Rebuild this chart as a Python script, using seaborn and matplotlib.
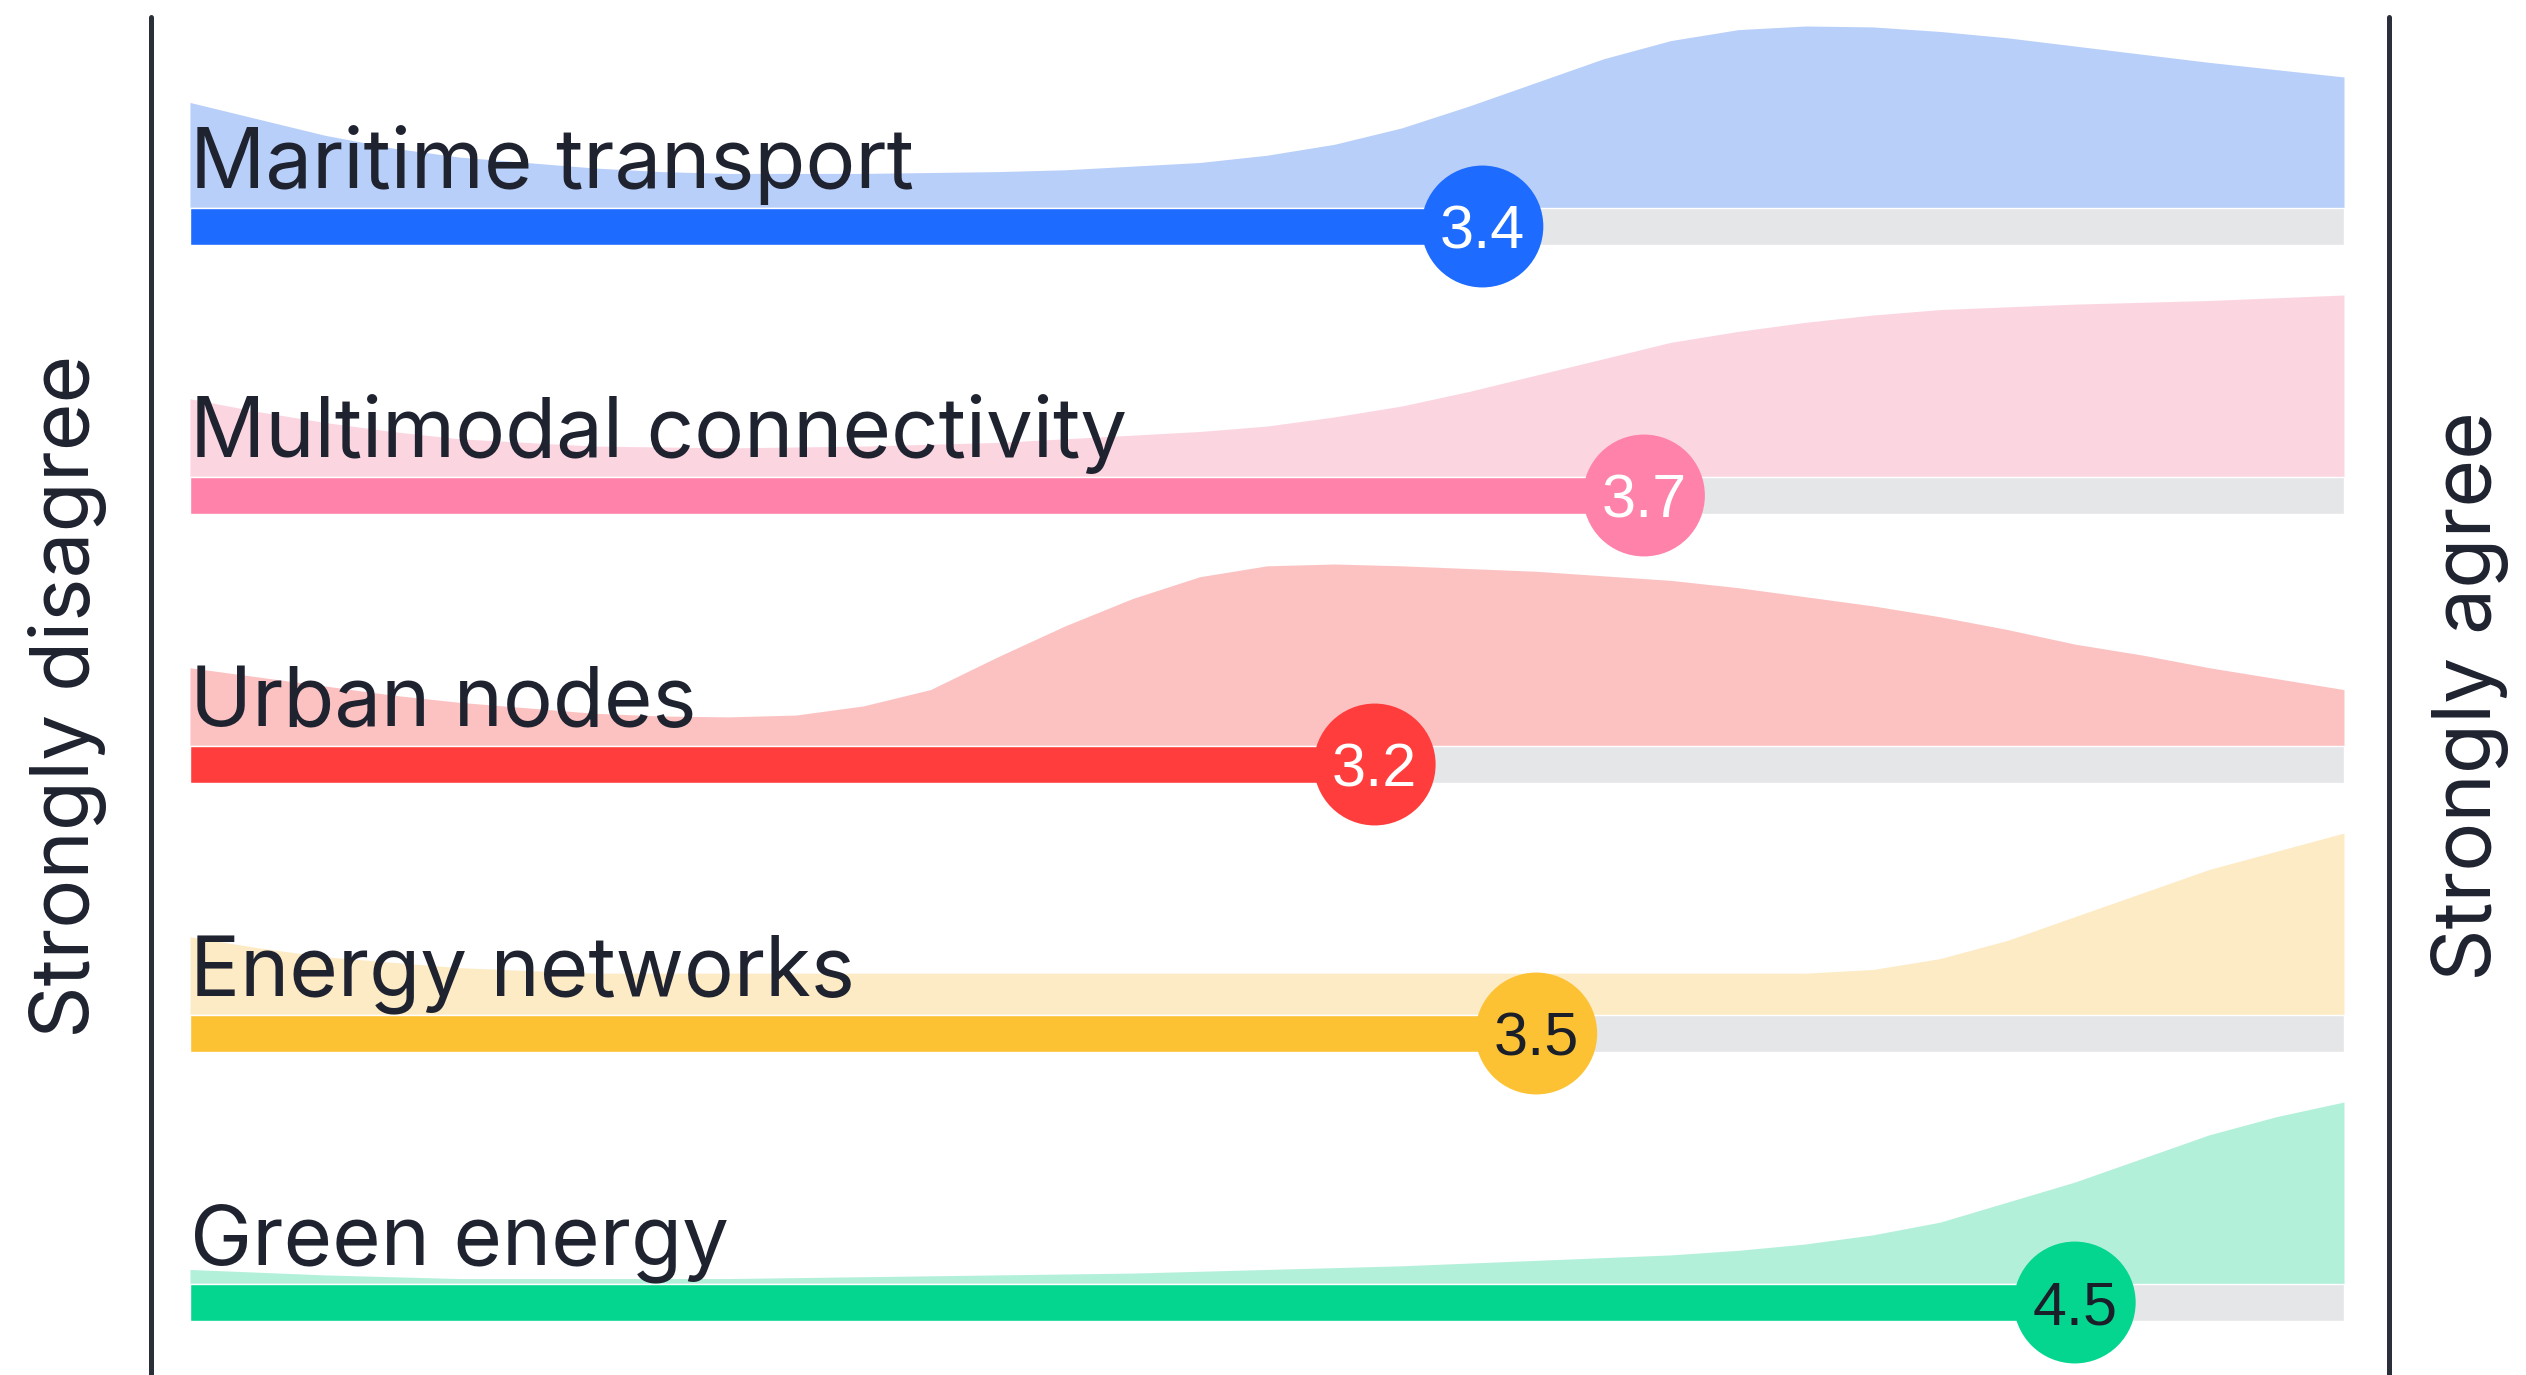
import numpy as np
import matplotlib.pyplot as plt
import seaborn as sns

categories = ["Maritime transport", "Multimodal connectivity", "Urban nodes",
              "Energy networks", "Green energy"]
means = [3.4, 3.7, 3.2, 3.5, 4.5]

# answer scale 1..5, shape of each response distribution (peak = 1)
grid = [1.0, 1.125, 1.25, 1.375, 1.5, 1.625, 1.75, 1.875, 2.0,
        2.125, 2.25, 2.375, 2.5, 2.625, 2.75, 2.875, 3.0,
        3.125, 3.25, 3.375, 3.5, 3.625, 3.75, 3.875, 4.0,
        4.125, 4.25, 4.375, 4.5, 4.625, 4.75, 4.875, 5.0]
maritime = [0.58, 0.49, 0.40, 0.33, 0.28, 0.25, 0.22, 0.20, 0.19,
            0.19, 0.19, 0.195, 0.20, 0.21, 0.23, 0.25, 0.29,
            0.35, 0.44, 0.56, 0.69, 0.82, 0.92, 0.98, 1.00,
            0.995, 0.97, 0.935, 0.89, 0.845, 0.80, 0.76, 0.72]
multimodal = [0.43, 0.36, 0.30, 0.25, 0.21, 0.19, 0.17, 0.165, 0.16,
              0.165, 0.17, 0.18, 0.19, 0.21, 0.23, 0.25, 0.28,
              0.33, 0.39, 0.47, 0.56, 0.65, 0.74, 0.80, 0.85,
              0.89, 0.92, 0.935, 0.95, 0.96, 0.97, 0.985, 1.00]
urban = [0.43, 0.38, 0.33, 0.28, 0.24, 0.21, 0.18, 0.165, 0.16,
         0.17, 0.22, 0.31, 0.49, 0.66, 0.81, 0.93, 0.99,
         1.00, 0.99, 0.975, 0.96, 0.935, 0.91, 0.87, 0.82,
         0.77, 0.71, 0.64, 0.56, 0.50, 0.43, 0.37, 0.31]
energy = [0.43, 0.37, 0.32, 0.29, 0.26, 0.245, 0.23, 0.23, 0.23,
          0.23, 0.23, 0.23, 0.23, 0.23, 0.23, 0.23, 0.23,
          0.23, 0.23, 0.23, 0.23, 0.23, 0.23, 0.23, 0.23,
          0.25, 0.31, 0.41, 0.54, 0.67, 0.80, 0.90, 1.00]
green = [0.08, 0.065, 0.05, 0.04, 0.03, 0.03, 0.03, 0.03, 0.03,
         0.035, 0.04, 0.045, 0.05, 0.055, 0.06, 0.07, 0.08,
         0.09, 0.10, 0.115, 0.13, 0.145, 0.16, 0.185, 0.22,
         0.27, 0.34, 0.45, 0.56, 0.69, 0.82, 0.92, 1.00]
shapes = [maritime, multimodal, urban, energy, green]

bar_colors = ["#1e6bff", "#ff82aa", "#ff3d3d", "#fcc233", "#05d68f"]
fill_colors = ["#b8cff9", "#fbd6e1", "#fcc2c2", "#fdebc5", "#b3f0da"]
num_colors = ["white", "white", "white", "#1b1f2a", "#1b1f2a"]

sns.set_theme(style="white")
plt.rcParams["font.family"] = ["Inter", "DejaVu Sans"]

fig = plt.figure(figsize=(25.26, 13.75), dpi=100)
ax = fig.add_axes([0, 0, 1, 1])
ax.axis("off")
ax.set_xlim(0.6472, 5.338)
ax.set_ylim(4.2695, -0.842)

bar_h = 0.1375
ridge_h = 0.6766
dark = "#1f2330"

for i, cat in enumerate(categories):
    base = i - bar_h / 2
    h = np.array(shapes[i])
    ax.fill_between(grid, base, base - ridge_h * h, color=fill_colors[i], lw=0, zorder=1)
    ax.barh(i, 4, left=1, height=bar_h, color="#e5e6e8", zorder=2)
    ax.barh(i, means[i] - 1, left=1, height=bar_h, color=bar_colors[i], zorder=3)
    ax.text(1, base - 0.074, cat, fontsize=60, color=dark, ha="left", va="baseline", zorder=5)

sns.scatterplot(x=means, y=list(range(5)), hue=categories, palette=bar_colors,
                s=7700, linewidth=0, legend=False, zorder=4, ax=ax)
for i, m in enumerate(means):
    ax.text(m, i, f"{m}", fontsize=44, color=num_colors[i], ha="center",
            va="center_baseline", family=["Liberation Sans", "DejaVu Sans"], zorder=6)

ax.axvline(0.9276, ymin=0, ymax=0.988, color="#2a2f3a", lw=3.6)
ax.axvline(5.0836, ymin=0, ymax=0.988, color="#2a2f3a", lw=3.6)

fig.text(68 / 2526, 1 - 696 / 1375, "Strongly disagree", rotation=90,
         ha="center", va="center", fontsize=59, color=dark)
fig.text(2470 / 2526, 1 - 696 / 1375, "Strongly agree", rotation=90,
         ha="center", va="center", fontsize=59, color=dark)

fig.savefig("out.png", dpi=100)
